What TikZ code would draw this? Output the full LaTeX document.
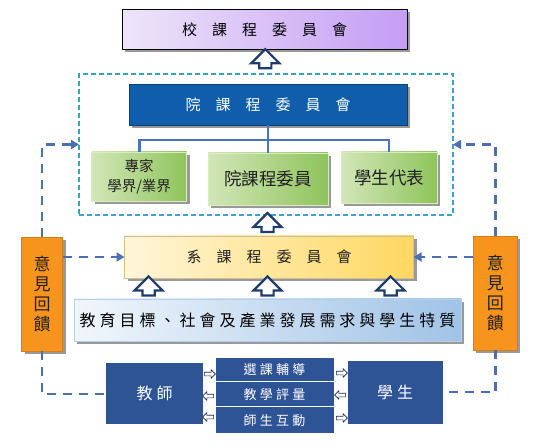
\documentclass[tikz,border=0pt]{standalone}
\usepackage{fontspec}
\setmainfont{Noto Sans CJK TC}
\newfontfamily\spaced[LetterSpace=25]{Noto Sans CJK TC}
\usetikzlibrary{positioning,arrows.meta,shapes.arrows,shadows,calc}
\definecolor{SchoolLight}{HTML}{EEE5FA}
\definecolor{SchoolDark}{HTML}{C49DF4}
\definecolor{CollegeBlue}{HTML}{0F5DAB}
\definecolor{CollegeEdge}{HTML}{0A3F78}
\definecolor{GreenLight}{HTML}{D2E6B8}
\definecolor{GreenDark}{HTML}{8FC45C}
\definecolor{DeptLight}{HTML}{FFF6DA}
\definecolor{DeptDark}{HTML}{FFD760}
\definecolor{GoalLight}{HTML}{F1F6FC}
\definecolor{GoalDark}{HTML}{A0C3E6}
\definecolor{FeedOrange}{HTML}{F7941D}
\definecolor{NavyBox}{HTML}{2F5496}
\definecolor{ArrowNavy}{HTML}{1F3C6C}
\definecolor{DashCyan}{HTML}{34A3C9}
\definecolor{DashBlue}{HTML}{4A70B4}
\definecolor{TreeBlue}{HTML}{4A72BE}
\definecolor{InkDark}{HTML}{202020}

\begin{document}
\begin{tikzpicture}[
  x=1pt, y=-1pt,
  font=\fontsize{15}{18}\selectfont,
  box/.style={anchor=north west, inner sep=0pt, outer sep=0pt, align=center},
  shadowed/.style={drop shadow={shadow xshift=3pt, shadow yshift=-3pt, fill=black!40, opacity=1}},
  panel/.style={box, shadowed, text=InkDark},
  member/.style={panel, left color=GreenLight, right color=GreenDark, draw=GreenLight!80!white, line width=.6pt},
  feedback/.style={panel, fill=FeedOrange, draw=FeedOrange!85!black, line width=.5pt, font=\fontsize{17}{20}\selectfont},
  navybox/.style={box, fill=NavyBox, text=white, font=\spaced\fontsize{16}{19}\selectfont},
  item/.style={box, fill=NavyBox, draw=white, line width=1pt, text=white, font=\spaced\fontsize{13}{16}\selectfont},
  bigup/.style={single arrow, draw=ArrowNavy, fill=white, line width=2.2pt, shape border rotate=90,
    inner sep=5pt, minimum height=19pt, minimum width=27pt, single arrow head extend=8pt, outer sep=0pt},
  tinyarrow/.style={single arrow, draw=ArrowNavy!70!black, fill=white, line width=.6pt,
    inner sep=1.5pt, minimum height=11pt, minimum width=8pt, single arrow head extend=2.5pt, outer sep=0pt},
  tree/.style={draw=TreeBlue, line width=2.8pt},
  feedline/.style={draw=DashBlue, line width=2.5pt, dash pattern=on 9pt off 7pt},
  feed/.style={feedline, -{Triangle[length=8pt,width=9pt]}}
]
  \useasboundingbox (0,0) rectangle (549,446);

  % school level
  \node[panel, draw=black, line width=.8pt, left color=SchoolLight, right color=SchoolDark,
    minimum width=285pt, minimum height=40pt, text=black] (school) at (122,9.5)
    {校\quad 課\quad 程\quad 委\quad 員\quad 會};

  % college level, inside the dashed frame
  \node[box, draw=DashCyan, line width=2pt, dash pattern=on 5pt off 3pt,
    minimum width=374pt, minimum height=141pt] (cluster) at (79,74) {};
  \node[panel, fill=CollegeBlue, draw=CollegeEdge, line width=.6pt, text=white,
    minimum width=278pt, minimum height=41pt] (college) at (129,84)
    {院\quad 課\quad 程\quad 委\quad 員\quad 會};
  \node[member, minimum width=95pt, minimum height=49pt, font=\fontsize{14.5}{20}\selectfont] (expert) at (91.6,152)
    {專家\\學界/業界};
  \node[member, minimum width=120pt, minimum height=52pt, font=\fontsize{17.5}{20}\selectfont] (members) at (208,153)
    {院課程委員};
  \node[member, minimum width=96pt, minimum height=51pt, font=\fontsize{17.5}{20}\selectfont] (students) at (341,152)
    {學生代表};

  \draw[tree] (college.south) -- (college.south |- members.north);
  \draw[tree] (college.south) ++(0,15) -| (expert.north);
  \draw[tree] (college.south) ++(0,15) -| (students.north);

  % department level
  \node[panel, left color=DeptLight, right color=DeptDark, draw=DeptDark!70!black!60, line width=.5pt,
    minimum width=289pt, minimum height=42pt] (dept) at (124.5,236)
    {系\quad 課\quad 程\quad 委\quad 員\quad 會};
  \node[panel, left color=GoalLight, right color=GoalDark, draw=GoalDark!80!white, line width=.5pt,
    minimum width=387pt, minimum height=42pt, text=black, font=\spaced\fontsize{16}{19}\selectfont] (goal) at (74,299)
    {教育目標、社會及產業發展需求與學生特質};

  % feedback
  \node[feedback, minimum width=41pt, minimum height=114pt] (feedL) at (21.7,237) {意\\見\\回\\饋};
  \node[feedback, minimum width=44pt, minimum height=114pt] (feedR) at (473.3,236) {意\\見\\回\\饋};

  % teachers and students
  \node[navybox, minimum width=97pt, minimum height=61pt] (teacher) at (106,363.3) {教師};
  \node[navybox, minimum width=95pt, minimum height=63pt] (student) at (347.7,360.7) {學生};
  \node[item, minimum width=119pt, minimum height=24pt] (guide) at (215,357.5) {選課輔導};
  \node[item, minimum width=119pt, minimum height=25pt] (assess) at (215,381.7) {教學評量};
  \node[item, minimum width=119pt, minimum height=27pt] (interact) at (215,406.7) {師生互動};

  % hollow arrows
  \node[bigup] (upschool) at ($(school.south)!.5!(cluster.north)$) {};
  \node[bigup] (upcollege) at (267.5,225.5) {};
  \node[bigup] (upgoalL) at (148.6,289) {};
  \node[bigup] (upgoalM) at (267.5,289) {};
  \node[bigup] (upgoalR) at (390.6,289) {};

  \node[tinyarrow] (tl1) at (209,374) {};
  \node[tinyarrow, shape border rotate=180] (tl2) at (209,396) {};
  \node[tinyarrow, shape border rotate=180] (tl3) at (209,417) {};
  \node[tinyarrow] (tr1) at (341,373) {};
  \node[tinyarrow, shape border rotate=180] (tr2) at (341,395) {};
  \node[tinyarrow] (tr3) at (341,418) {};

  % dashed feedback paths
  \draw[feed] (feedL.north) |- (cluster.west);
  \draw[feed] (feedR.north) |- (cluster.east);
  \draw[feed] (feedL.east |- dept.west) -- (dept.west);
  \draw[feed] (feedR.west |- dept.east) -- (dept.east);
  \draw[feedline] (feedL.south) |- (teacher.west);
  \draw[feedline] (feedR.south) |- (student.east);
\end{tikzpicture}
\end{document}
